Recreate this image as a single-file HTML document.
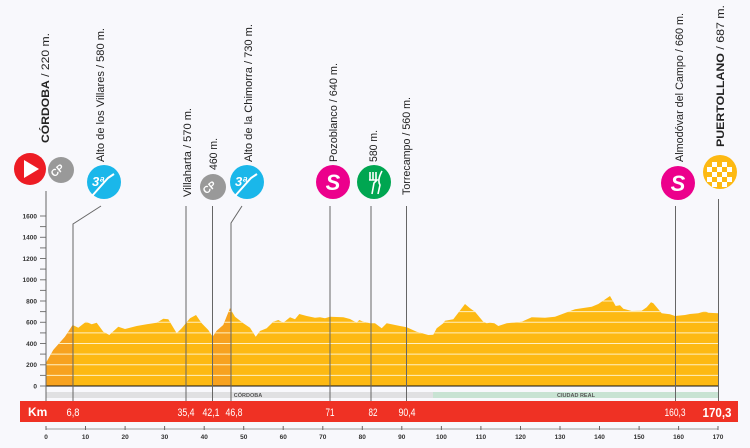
<!DOCTYPE html>
<html><head><meta charset="utf-8"><style>
html,body{margin:0;padding:0;background:#f8f8fc;}
svg{display:block;font-family:"Liberation Sans",sans-serif;}
</style></head><body>
<svg width="750" height="448" viewBox="0 0 750 448" xmlns="http://www.w3.org/2000/svg">
<defs>
<clipPath id="pc"><path id="prof" d="M46,386 L46,363 L53.3,350 L65,336.7 L72.7,325 L78.3,327.7 L86,321.7 L91.7,324.3 L96.7,322.7 L103.3,331.7 L109.3,335 L118.3,326.7 L125,329 L136.7,326 L146.7,324.3 L156.7,322.7 L163.3,318.7 L168.3,319.3 L176.7,333.3 L181.7,328.3 L190,318.3 L196,315 L201.7,323.3 L208.3,330 L212.7,336.7 L216.7,330.7 L223.3,325 L230,308.3 L235,316.7 L243.3,323.3 L250,327.7 L255.7,336.7 L260,331 L266.7,328.3 L273.3,321.7 L278.3,320 L283.3,322.7 L290,317.3 L295,319.3 L299.3,314 L306.7,316 L315,317.7 L320,317.3 L325,318.3 L330,316.7 L343.3,317.3 L350,319 L356.7,322.7 L359.3,320 L363.3,321.7 L370,323.3 L375,323.3 L381.7,328.3 L386.7,323.3 L400,326 L406.7,327.3 L416.7,331.7 L428.3,335 L433.3,334.7 L436.7,328.3 L443.3,323.3 L445,320.7 L453.3,319.3 L465,304 L470,308.3 L475,311.7 L483.3,321.7 L486.7,323.3 L490,322.7 L494.3,323.3 L498.3,326 L506.7,323.3 L521.7,321.7 L531.7,317.3 L545,317.7 L555,316.7 L561.7,314.3 L575,309.3 L591.7,306.7 L598.3,304 L610,296 L615.7,306 L620,305.3 L623.3,308.7 L631.7,311 L641.7,310.7 L646.7,307.3 L651,302.3 L653.3,303.3 L661.7,313.3 L670,314.3 L675,316 L685,315 L690,314 L698.3,313.3 L705,311.3 L708.3,312.7 L718,313.3 L718,386 Z"/></clipPath>
</defs>
<rect width="750" height="448" fill="#f8f8fc"/>
<use href="#prof" fill="#fdb913"/>
<g clip-path="url(#pc)">
<rect x="46" y="290" width="27" height="96" fill="#f7a21f"/>
<rect x="212.7" y="290" width="18.3" height="96" fill="#f7a21f"/>
<g stroke="#fff0c0" stroke-width="1">
<line x1="46" y1="375.4" x2="718" y2="375.4"/><line x1="46" y1="364.8" x2="718" y2="364.8"/>
<line x1="46" y1="354.1" x2="718" y2="354.1"/><line x1="46" y1="343.5" x2="718" y2="343.5"/>
<line x1="46" y1="332.9" x2="718" y2="332.9"/><line x1="46" y1="322.3" x2="718" y2="322.3"/>
<line x1="46" y1="311.6" x2="718" y2="311.6"/><line x1="46" y1="301" x2="718" y2="301"/>
</g>
</g>
<line x1="46" y1="386" x2="718" y2="386" stroke="#111" stroke-width="1"/>
<!-- y axis -->
<g stroke="#777" stroke-width="1">
<line x1="40" y1="386" x2="46" y2="386"/><line x1="40" y1="375.4" x2="46" y2="375.4"/>
<line x1="40" y1="364.8" x2="46" y2="364.8"/><line x1="40" y1="354.1" x2="46" y2="354.1"/>
<line x1="40" y1="343.5" x2="46" y2="343.5"/><line x1="40" y1="332.9" x2="46" y2="332.9"/>
<line x1="40" y1="322.3" x2="46" y2="322.3"/><line x1="40" y1="311.6" x2="46" y2="311.6"/>
<line x1="40" y1="301" x2="46" y2="301"/><line x1="40" y1="290.4" x2="46" y2="290.4"/>
<line x1="40" y1="279.8" x2="46" y2="279.8"/><line x1="40" y1="269.1" x2="46" y2="269.1"/>
<line x1="40" y1="258.5" x2="46" y2="258.5"/><line x1="40" y1="247.9" x2="46" y2="247.9"/>
<line x1="40" y1="237.3" x2="46" y2="237.3"/><line x1="40" y1="226.6" x2="46" y2="226.6"/>
<line x1="40" y1="216" x2="46" y2="216"/>
</g>
<g font-size="6.5" font-weight="bold" fill="#333" text-anchor="end">
<text x="37" y="388.5">0</text><text x="37" y="367">200</text><text x="37" y="346">400</text>
<text x="37" y="324.7">600</text><text x="37" y="303.5">800</text><text x="37" y="282.2">1000</text>
<text x="37" y="261">1200</text><text x="37" y="239.7">1400</text><text x="37" y="218.5">1600</text>
</g>
<!-- province band -->
<rect x="46" y="392" width="387" height="6" fill="#e0e0e2"/>
<rect x="433" y="392" width="285" height="6" fill="#c8e3d3"/>
<text x="248" y="397" font-size="5.5" font-weight="bold" fill="#555" text-anchor="middle">CÓRDOBA</text>
<text x="576" y="397" font-size="5.5" font-weight="bold" fill="#555" text-anchor="middle">CIUDAD REAL</text>
<!-- vertical marker lines -->
<g stroke="#666" stroke-width="1" fill="none">
<line x1="46" y1="191" x2="46" y2="404"/>
<polyline points="101,206 73,224 73,404"/>
<line x1="186" y1="206" x2="186" y2="404"/>
<line x1="212.5" y1="206" x2="212.5" y2="404"/>
<polyline points="242,206 231,223 231,404"/>
<line x1="330" y1="206" x2="330" y2="404"/>
<line x1="371" y1="206" x2="371" y2="404"/>
<line x1="406.5" y1="206" x2="406.5" y2="404"/>
<line x1="675.5" y1="206" x2="675.5" y2="404"/>
<line x1="718.5" y1="199" x2="718.5" y2="404"/>
</g>
<!-- km band -->
<rect x="20" y="401" width="718" height="21" fill="#ef3124"/>
<g fill="#fff" font-size="11">
<text x="28" y="416" font-weight="bold" font-size="12">Km</text>
<text x="73" y="416" text-anchor="middle" textLength="13" lengthAdjust="spacingAndGlyphs">6,8</text>
<text x="186" y="416" text-anchor="middle" textLength="17" lengthAdjust="spacingAndGlyphs">35,4</text>
<text x="211" y="416" text-anchor="middle" textLength="17" lengthAdjust="spacingAndGlyphs">42,1</text>
<text x="234" y="416" text-anchor="middle" textLength="17" lengthAdjust="spacingAndGlyphs">46,8</text>
<text x="330" y="416" text-anchor="middle" textLength="9" lengthAdjust="spacingAndGlyphs">71</text>
<text x="373" y="416" text-anchor="middle" textLength="9" lengthAdjust="spacingAndGlyphs">82</text>
<text x="407" y="416" text-anchor="middle" textLength="17" lengthAdjust="spacingAndGlyphs">90,4</text>
<text x="675" y="416" text-anchor="middle" textLength="21" lengthAdjust="spacingAndGlyphs">160,3</text>
<text x="717" y="417" text-anchor="middle" font-weight="bold" font-size="13" textLength="29" lengthAdjust="spacingAndGlyphs">170,3</text>
</g>
<!-- x axis -->
<line x1="46" y1="429" x2="718" y2="429" stroke="#bbb" stroke-width="1.5"/>
<g stroke="#666" stroke-width="1">
<line x1="46" y1="426" x2="46" y2="430"/><line x1="85.5" y1="426" x2="85.5" y2="430"/><line x1="125.1" y1="426" x2="125.1" y2="430"/><line x1="164.6" y1="426" x2="164.6" y2="430"/><line x1="204.2" y1="426" x2="204.2" y2="430"/><line x1="243.7" y1="426" x2="243.7" y2="430"/><line x1="283.2" y1="426" x2="283.2" y2="430"/><line x1="322.8" y1="426" x2="322.8" y2="430"/><line x1="362.3" y1="426" x2="362.3" y2="430"/><line x1="401.8" y1="426" x2="401.8" y2="430"/><line x1="441.4" y1="426" x2="441.4" y2="430"/><line x1="480.9" y1="426" x2="480.9" y2="430"/><line x1="520.5" y1="426" x2="520.5" y2="430"/><line x1="560" y1="426" x2="560" y2="430"/><line x1="599.5" y1="426" x2="599.5" y2="430"/><line x1="639.1" y1="426" x2="639.1" y2="430"/><line x1="678.6" y1="426" x2="678.6" y2="430"/><line x1="718" y1="426" x2="718" y2="430"/>
</g>
<g font-size="6.5" font-weight="bold" fill="#333" text-anchor="middle">
<text x="46" y="439">0</text><text x="85.5" y="439">10</text><text x="125.1" y="439">20</text><text x="164.6" y="439">30</text><text x="204.2" y="439">40</text><text x="243.7" y="439">50</text><text x="283.2" y="439">60</text><text x="322.8" y="439">70</text><text x="362.3" y="439">80</text><text x="401.8" y="439">90</text><text x="441.4" y="439">100</text><text x="480.9" y="439">110</text><text x="520.5" y="439">120</text><text x="560" y="439">130</text><text x="599.5" y="439">140</text><text x="639.1" y="439">150</text><text x="678.6" y="439">160</text><text x="718" y="439">170</text>
</g>
<!-- icons -->
<circle cx="30" cy="169" r="16" fill="#ed1c24"/>
<polygon points="24,160 24,178 39,169" fill="#fff"/>
<circle cx="61" cy="170" r="13" fill="#999"/>
<text x="57" y="174" font-size="10" font-weight="bold" fill="#fff" text-anchor="middle" transform="rotate(-40 57 170)">CP</text>
<circle cx="104" cy="182" r="17" fill="#1ab7ea"/>
<text x="98" y="186" font-size="13" font-weight="bold" font-style="italic" fill="#fff" text-anchor="middle">3ª</text>
<polyline points="92,196 108,178 114,174" stroke="#fff" stroke-width="2" fill="none"/>
<circle cx="213" cy="187" r="13" fill="#999"/>
<text x="209" y="191" font-size="10" font-weight="bold" fill="#fff" text-anchor="middle" transform="rotate(-40 209 187)">CP</text>
<circle cx="247" cy="182" r="17" fill="#1ab7ea"/>
<text x="241" y="186" font-size="13" font-weight="bold" font-style="italic" fill="#fff" text-anchor="middle">3ª</text>
<polyline points="235,196 251,178 257,174" stroke="#fff" stroke-width="2" fill="none"/>
<circle cx="333" cy="182" r="17" fill="#ec008c"/>
<text x="333" y="190" font-size="22" font-weight="bold" font-style="italic" fill="#fff" text-anchor="middle">S</text>
<circle cx="374" cy="182" r="17" fill="#00a651"/>
<path d="M370,172 L370,180 M373,172 L373,180 M376,172 L376,180 M369,180 L377,180 L374,183 L372,194 M382,171 Q377,180 380,185 L378,194" stroke="#fff" stroke-width="1.6" fill="none"/>
<circle cx="678" cy="183" r="17" fill="#ec008c"/>
<text x="678" y="191" font-size="22" font-weight="bold" font-style="italic" fill="#fff" text-anchor="middle">S</text>
<circle cx="720" cy="172" r="17" fill="#fdb913"/>
<g fill="#fff">
<rect x="712" y="162" width="5" height="5"/><rect x="722" y="162" width="5" height="5"/>
<rect x="717" y="167" width="5" height="5"/><rect x="727" y="167" width="5" height="5"/><rect x="707" y="167" width="5" height="5"/>
<rect x="712" y="172" width="5" height="5"/><rect x="722" y="172" width="5" height="5"/>
<rect x="717" y="177" width="5" height="5"/><rect x="727" y="177" width="5" height="5"/><rect x="707" y="177" width="5" height="5"/>
<rect x="712" y="182" width="5" height="5"/><rect x="722" y="182" width="5" height="5"/>
</g>
<!-- labels -->
<g font-size="11" fill="#222">
<text transform="translate(49,143) rotate(-90)" textLength="110" lengthAdjust="spacingAndGlyphs"><tspan font-weight="bold">CÓRDOBA</tspan> / 220 m.</text>
<text transform="translate(104,162) rotate(-90)" textLength="134" lengthAdjust="spacingAndGlyphs">Alto de los Villares / 580 m.</text>
<text transform="translate(191,197) rotate(-90)" textLength="89" lengthAdjust="spacingAndGlyphs">Villaharta / 570 m.</text>
<text transform="translate(217,170) rotate(-90)" textLength="32" lengthAdjust="spacingAndGlyphs">460 m.</text>
<text transform="translate(252,162) rotate(-90)" textLength="138" lengthAdjust="spacingAndGlyphs">Alto de la Chimorra / 730 m.</text>
<text transform="translate(337,162) rotate(-90)" textLength="99" lengthAdjust="spacingAndGlyphs">Pozoblanco / 640 m.</text>
<text transform="translate(377,162) rotate(-90)" textLength="32" lengthAdjust="spacingAndGlyphs">580 m.</text>
<text transform="translate(410,195) rotate(-90)" textLength="98" lengthAdjust="spacingAndGlyphs">Torrecampo / 560 m.</text>
<text transform="translate(683,162) rotate(-90)" textLength="149" lengthAdjust="spacingAndGlyphs">Almodóvar del Campo / 660 m.</text>
<text transform="translate(724,147) rotate(-90)" textLength="142" lengthAdjust="spacingAndGlyphs"><tspan font-weight="bold">PUERTOLLANO</tspan> / 687 m.</text>
</g>
</svg>
</body></html>
